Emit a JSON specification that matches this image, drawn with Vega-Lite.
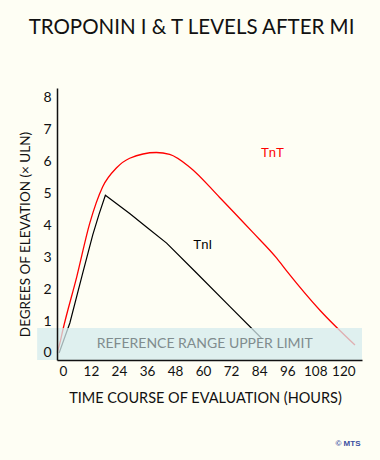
{
  "$schema": "https://vega.github.io/schema/vega-lite/v6.json",
  "width": 305,
  "height": 272,
  "autosize": {"type": "none"},
  "padding": {"left": 57, "top": 88, "right": 18, "bottom": 100},
  "background": "#fefef4",
  "config": {"view": {"stroke": null}, "font": "Lato", "axis": {"labelOverlap": false}},
  "title": {"text": "TROPONIN I & T LEVELS AFTER MI", "font": "Lato", "fontSize": 20.5, "fontWeight": "normal", "color": "#111111", "anchor": "middle", "dx": -18, "offset": 50},
  "datasets": {
    "tnt": [
      {"hour": -2.4, "value": 0.02},
      {"hour": -1.3, "value": 0.3},
      {"hour": 0, "value": 0.72},
      {"hour": 6, "value": 2.4},
      {"hour": 11.5, "value": 4.06},
      {"hour": 17, "value": 5.2},
      {"hour": 23, "value": 5.8},
      {"hour": 28.6, "value": 6.1},
      {"hour": 40, "value": 6.28},
      {"hour": 45.7, "value": 6.22},
      {"hour": 54.3, "value": 5.82},
      {"hour": 67, "value": 4.88},
      {"hour": 81, "value": 3.8},
      {"hour": 91.5, "value": 2.97},
      {"hour": 96, "value": 2.55},
      {"hour": 110, "value": 1.34},
      {"hour": 125, "value": 0.25}
    ],
    "tni": [
      {"hour": -1.6, "value": 0.0},
      {"hour": 0.85, "value": 0.5},
      {"hour": 3, "value": 0.94},
      {"hour": 8.5, "value": 2.5},
      {"hour": 12.8, "value": 3.7},
      {"hour": 15.5, "value": 4.35},
      {"hour": 18.2, "value": 4.94},
      {"hour": 28.6, "value": 4.37},
      {"hour": 35.9, "value": 3.94},
      {"hour": 44.4, "value": 3.44},
      {"hour": 57, "value": 2.52},
      {"hour": 71.4, "value": 1.46},
      {"hour": 85, "value": 0.46}
    ],
    "band": [{"hour": -11, "hour2": 128, "value": -0.22, "value2": 0.78}],
    "bandLabel": [{"label": "REFERENCE RANGE UPPER LIMIT", "hour": 60.7, "value": 0.28}],
    "labels": [
      {"name": "TnT", "hour": 89.7, "value": 6.25},
      {"name": "TnI", "hour": 59.8, "value": 3.37}
    ],
    "credit": [{"text": "© MTS", "hour": 122, "value": -2.85}]
  },
  "encoding": {
    "x": {"field": "hour", "type": "quantitative",
      "scale": {"domain": [-2.5, 128], "nice": false, "zero": false},
      "axis": {"values": [0, 12, 24, 36, 48, 60, 72, 84, 96, 108, 120], "labelOverlap": false, "ticks": false, "grid": false, "domainColor": "#111111", "domainWidth": 1.5, "labelFont": "Lato", "labelFontSize": 13.5, "labelColor": "#111111", "labelPadding": 4, "title": "TIME COURSE OF EVALUATION (HOURS)", "titleFont": "Lato", "titleFontSize": 14.5, "titleFontWeight": "normal", "titleColor": "#111111", "titlePadding": 14, "titleX": 148, "zindex": 2}},
    "y": {"field": "value", "type": "quantitative",
      "scale": {"domain": [-0.22, 8.3], "nice": false, "zero": false},
      "axis": {"values": [0, 1, 2, 3, 4, 5, 6, 7, 8], "labelOverlap": false, "ticks": false, "grid": false, "domainColor": "#111111", "domainWidth": 1.5, "labelFont": "Lato", "labelFontSize": 14, "labelColor": "#111111", "labelPadding": 6, "title": "DEGREES OF ELEVATION (× ULN)", "titleFont": "Lato", "titleFontSize": 13.5, "titleFontWeight": "normal", "titleColor": "#111111", "titlePadding": 10, "titleY": 146, "zindex": 2}}
  },
  "layer": [
    {
      "data": {"name": "tnt"},
      "mark": {"type": "line", "color": "#ff0000", "strokeWidth": 1.3, "interpolate": "monotone"}
    },
    {
      "data": {"name": "tni"},
      "mark": {"type": "line", "color": "#000000", "strokeWidth": 1.2, "interpolate": "linear"}
    },
    {
      "data": {"name": "band"},
      "mark": {"type": "rect", "color": "#d4ebed", "opacity": 0.75, "clip": false},
      "encoding": {
        "x2": {"field": "hour2"},
        "y2": {"field": "value2"}
      }
    },
    {
      "data": {"name": "bandLabel"},
      "mark": {"type": "text", "font": "Lato", "fontSize": 14, "color": "#808c8e", "align": "center", "baseline": "middle"},
      "encoding": {
        "text": {"field": "label"}
      }
    },
    {
      "data": {"name": "labels"},
      "mark": {"type": "text", "font": "Liberation Sans", "fontSize": 13, "align": "center", "baseline": "middle"},
      "encoding": {
        "text": {"field": "name"},
        "color": {"field": "name", "type": "nominal", "scale": {"domain": ["TnT", "TnI"], "range": ["#ff0000", "#000000"]}, "legend": null}
      }
    },
    {
      "data": {"name": "credit"},
      "mark": {"type": "text", "font": "Liberation Sans", "fontSize": 8, "fontWeight": "bold", "color": "#3a4ea0", "align": "center", "baseline": "middle", "clip": false},
      "encoding": {
        "text": {"field": "text"}
      }
    }
  ]
}
